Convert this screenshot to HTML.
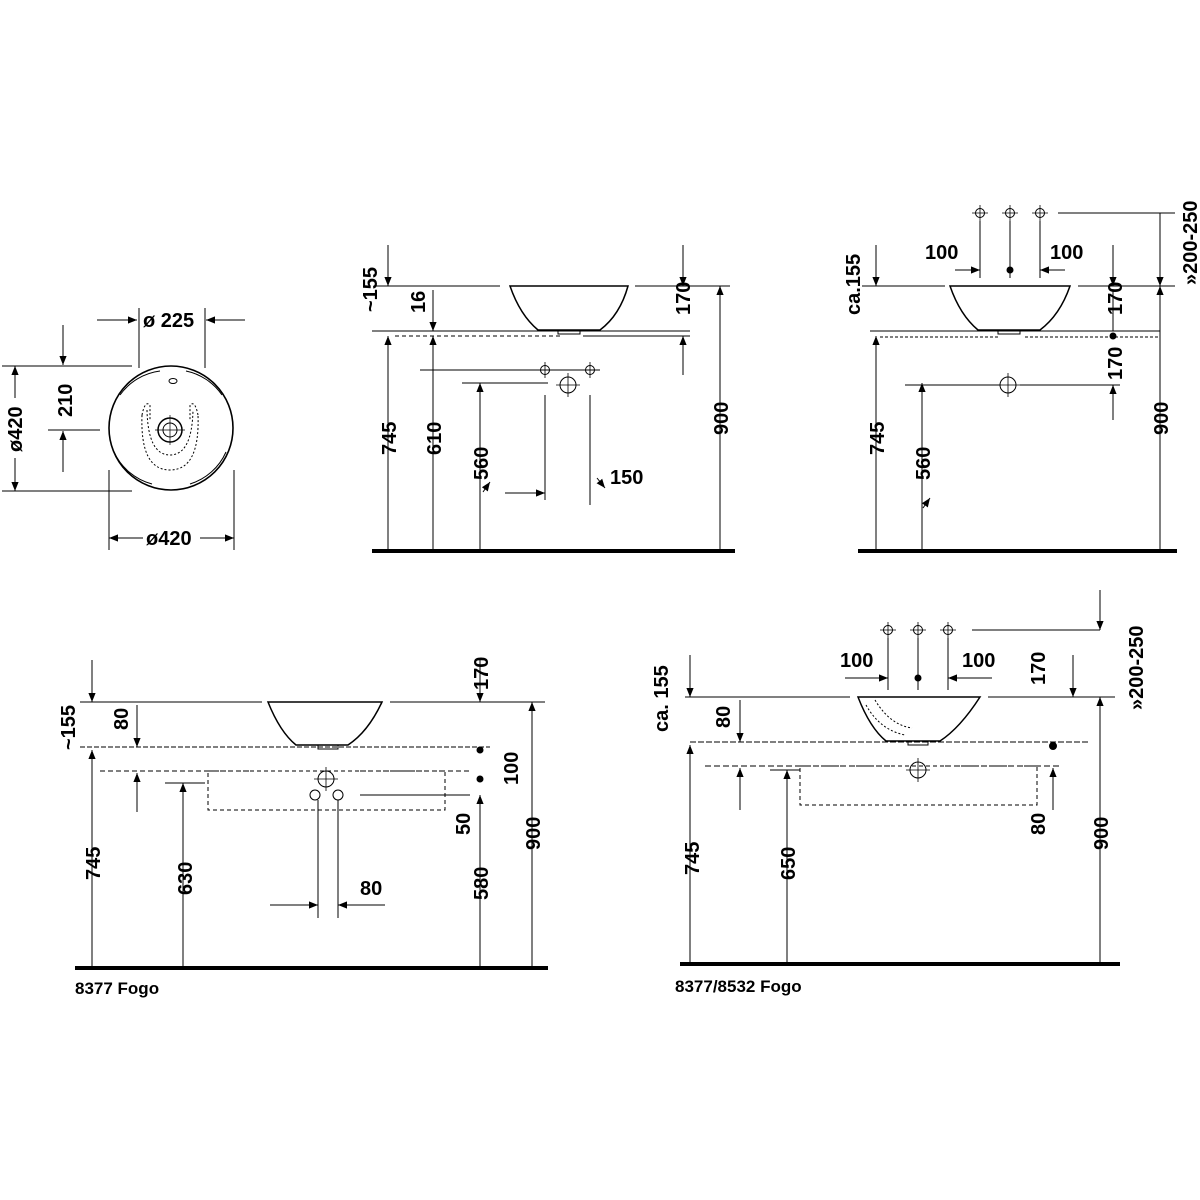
<!DOCTYPE html>
<html><head><meta charset="utf-8"><style>
html,body{margin:0;padding:0;background:#fff;width:1200px;height:1200px;overflow:hidden}
svg text{font-family:"Liberation Sans",Arial,sans-serif;font-weight:bold;font-size:20px;fill:#000}
</style></head><body>
<svg width="1200" height="1200" viewBox="0 0 1200 1200" xmlns="http://www.w3.org/2000/svg">
<defs>
<marker id="a" viewBox="0 0 10 10" refX="10" refY="5" markerWidth="9" markerHeight="9" orient="auto-start-reverse" markerUnits="userSpaceOnUse"><path d="M0,1 L10,5 L0,9 Z" fill="#000"/></marker>
</defs>
<g stroke="#000" stroke-width="1" fill="none">
<!-- Panel 1 -->
<circle cx="171" cy="428" r="62" stroke-width="1.6"/>
<path d="M120 395 A58 58 0 0 1 160 371 M186 371 A58 58 0 0 1 222 395 M226 452 A58 58 0 0 1 190 484 M152 484 A58 58 0 0 1 114 452"/>
<ellipse cx="173" cy="381" rx="4" ry="2.5"/>
<circle cx="170" cy="430" r="12" stroke-width="1.5"/><circle cx="170" cy="430" r="7"/>
<path d="M155 430 H185 M170 415 V445" stroke-width="0.7"/>
<path d="M142 415 Q140 470 170 470 Q200 470 198 415" stroke-dasharray="2 2"/>
<path d="M147 410 Q148 455 170 455 Q192 455 193 410" stroke-dasharray="2 2"/>
<path d="M142 415 Q145 400 150 405 L150 420 M198 415 Q195 400 190 405 L190 420" stroke-dasharray="2 2"/>
<line x1="97" y1="320" x2="137" y2="320" marker-end="url(#a)"/>
<line x1="245" y1="320" x2="206" y2="320" marker-end="url(#a)"/>
<line x1="139" y1="308" x2="139" y2="368"/><line x1="205" y1="308" x2="205" y2="368"/>
<line x1="63" y1="325" x2="63" y2="365" marker-end="url(#a)"/>
<line x1="63" y1="472" x2="63" y2="431" marker-end="url(#a)"/>
<line x1="2" y1="366" x2="132" y2="366"/><line x1="48" y1="430" x2="100" y2="430"/>
<line x1="15" y1="366" x2="15" y2="398" marker-start="url(#a)"/>
<line x1="15" y1="458" x2="15" y2="491" marker-end="url(#a)"/>
<line x1="2" y1="491" x2="132" y2="491"/>
<line x1="109" y1="538" x2="143" y2="538" marker-start="url(#a)"/>
<line x1="234" y1="538" x2="200" y2="538" marker-start="url(#a)"/>
<line x1="109" y1="470" x2="109" y2="550"/><line x1="234" y1="470" x2="234" y2="550"/>

<!-- Panel 2 -->
<line x1="372" y1="551" x2="735" y2="551" stroke-width="4"/>
<path d="M510 286 Q520 315 538 330 L600 330 Q620 315 628 286 Z" stroke-width="1.5"/>
<rect x="558" y="330" width="22" height="4"/>
<line x1="372" y1="331" x2="690" y2="331"/>
<line x1="395" y1="336" x2="560" y2="336" stroke-dasharray="4 3"/>
<line x1="583" y1="336" x2="690" y2="336"/>
<line x1="375" y1="286" x2="500" y2="286"/><line x1="635" y1="286" x2="730" y2="286"/>
<line x1="388" y1="245" x2="388" y2="286" marker-end="url(#a)"/>
<line x1="388" y1="551" x2="388" y2="336" marker-end="url(#a)"/>
<line x1="433" y1="290" x2="433" y2="331" marker-end="url(#a)"/>
<line x1="433" y1="551" x2="433" y2="336" marker-end="url(#a)"/>
<line x1="480" y1="551" x2="480" y2="383" marker-end="url(#a)"/>
<line x1="462" y1="383" x2="548" y2="383"/>
<line x1="420" y1="370" x2="600" y2="370"/>
<circle cx="545" cy="370" r="4.5"/><circle cx="590" cy="370" r="4.5"/><circle cx="568" cy="385" r="8"/>
<path d="M537 370H553M545 362V378M582 370H598M590 362V378M556 385H580M568 373V397" stroke-width="0.8"/>
<line x1="545" y1="395" x2="545" y2="500"/><line x1="590" y1="395" x2="590" y2="505"/>
<line x1="505" y1="493" x2="545" y2="493" marker-end="url(#a)"/>
<line x1="597" y1="478" x2="605" y2="488" marker-end="url(#a)"/>
<line x1="483" y1="492" x2="490" y2="482" marker-end="url(#a)"/>
<line x1="683" y1="245" x2="683" y2="286" marker-end="url(#a)"/>
<line x1="683" y1="375" x2="683" y2="336" marker-end="url(#a)"/>
<line x1="720" y1="551" x2="720" y2="286" marker-end="url(#a)"/>

<!-- Panel 3 -->
<line x1="858" y1="551" x2="1177" y2="551" stroke-width="4"/>
<path d="M950 286 Q960 315 978 330 L1040 330 Q1060 315 1070 286 Z" stroke-width="1.5"/>
<rect x="998" y="330" width="22" height="4"/>
<line x1="870" y1="331" x2="1160" y2="331"/>
<line x1="880" y1="337" x2="1000" y2="337" stroke-dasharray="3 2"/>
<line x1="1025" y1="337" x2="1160" y2="337" stroke-dasharray="3 2"/>
<line x1="862" y1="286" x2="945" y2="286"/><line x1="1078" y1="286" x2="1175" y2="286"/>
<circle cx="980" cy="213" r="4.5"/><circle cx="1010" cy="213" r="4.5"/><circle cx="1040" cy="213" r="4.5"/>
<path d="M972 213H988M980 205V221M1002 213H1018M1010 205V221M1032 213H1048M1040 205V221" stroke-width="0.8"/>
<line x1="980" y1="221" x2="980" y2="278"/><line x1="1040" y1="221" x2="1040" y2="278"/>
<line x1="1010" y1="221" x2="1010" y2="278"/>
<circle cx="1010" cy="270" r="3" fill="#000"/>
<line x1="955" y1="270" x2="980" y2="270" marker-end="url(#a)"/>
<line x1="1065" y1="270" x2="1040" y2="270" marker-end="url(#a)"/>
<line x1="1058" y1="213" x2="1175" y2="213"/>
<line x1="876" y1="245" x2="876" y2="286" marker-end="url(#a)"/>
<line x1="876" y1="551" x2="876" y2="336" marker-end="url(#a)"/>
<line x1="922" y1="551" x2="922" y2="383" marker-end="url(#a)"/>
<line x1="905" y1="385" x2="1000" y2="385"/><line x1="1020" y1="385" x2="1120" y2="385"/>
<circle cx="1008" cy="385" r="8"/><path d="M996 385H1020M1008 373V397" stroke-width="0.8"/>
<line x1="923" y1="508" x2="930" y2="498" marker-end="url(#a)"/>
<line x1="1113" y1="245" x2="1113" y2="286" marker-end="url(#a)"/>
<line x1="1113" y1="290" x2="1113" y2="331"/>
<circle cx="1113" cy="336" r="3" fill="#000"/>
<line x1="1113" y1="420" x2="1113" y2="385" marker-end="url(#a)"/>
<line x1="1160" y1="213" x2="1160" y2="286" marker-end="url(#a)"/>
<line x1="1160" y1="551" x2="1160" y2="286" marker-end="url(#a)"/>

<!-- Panel 4 -->
<line x1="75" y1="968" x2="548" y2="968" stroke-width="4"/>
<path d="M268 702 Q280 732 296 745 L348 745 Q368 732 382 702 Z" stroke-width="1.5"/>
<rect x="318" y="745" width="20" height="4"/>
<line x1="80" y1="747" x2="490" y2="747" stroke-dasharray="5 2"/>
<line x1="100" y1="771" x2="250" y2="771" stroke-dasharray="5 3"/>
<line x1="360" y1="771" x2="470" y2="771" stroke-dasharray="5 3"/>
<rect x="208" y="771" width="237" height="39" stroke-dasharray="4 3"/>
<circle cx="326" cy="779" r="8"/><circle cx="315" cy="795" r="5"/><circle cx="338" cy="795" r="5"/>
<path d="M314 779H338M326 767V791" stroke-width="0.8"/>
<line x1="360" y1="795" x2="470" y2="795"/>
<line x1="80" y1="702" x2="262" y2="702"/><line x1="390" y1="702" x2="545" y2="702"/>
<line x1="92" y1="660" x2="92" y2="702" marker-end="url(#a)"/>
<line x1="92" y1="968" x2="92" y2="750" marker-end="url(#a)"/>
<line x1="137" y1="705" x2="137" y2="747" marker-end="url(#a)"/>
<line x1="137" y1="812" x2="137" y2="773" marker-end="url(#a)"/>
<line x1="183" y1="968" x2="183" y2="783" marker-end="url(#a)"/>
<line x1="165" y1="783" x2="205" y2="783"/>
<line x1="318" y1="800" x2="318" y2="918"/><line x1="338" y1="800" x2="338" y2="918"/>
<line x1="270" y1="905" x2="318" y2="905" marker-end="url(#a)"/>
<line x1="385" y1="905" x2="338" y2="905" marker-end="url(#a)"/>
<line x1="480" y1="660" x2="480" y2="702" marker-end="url(#a)"/>
<circle cx="480" cy="750" r="3" fill="#000"/><circle cx="480" cy="779" r="3" fill="#000"/>
<line x1="480" y1="968" x2="480" y2="795" marker-end="url(#a)"/>
<line x1="532" y1="968" x2="532" y2="702" marker-end="url(#a)"/>

<!-- Panel 5 -->
<line x1="680" y1="964" x2="1120" y2="964" stroke-width="4"/>
<path d="M858 697 Q870 728 886 741 L940 741 Q960 728 980 697 Z" stroke-width="1.5"/>
<path d="M866 705 Q880 730 905 735 M875 700 Q890 725 912 728" stroke-dasharray="2 2"/>
<rect x="908" y="741" width="20" height="4"/>
<line x1="690" y1="742" x2="1090" y2="742" stroke-dasharray="6 2"/>
<line x1="705" y1="766" x2="890" y2="766" stroke-dasharray="6 3"/>
<line x1="945" y1="766" x2="1060" y2="766" stroke-dasharray="6 3"/>
<rect x="800" y="766" width="237" height="39" stroke-dasharray="4 3"/>
<circle cx="918" cy="770" r="8"/><path d="M906 770H930M918 758V782" stroke-width="0.8"/>
<circle cx="888" cy="630" r="4.5"/><circle cx="918" cy="630" r="4.5"/><circle cx="948" cy="630" r="4.5"/>
<path d="M880 630H896M888 622V638M910 630H926M918 622V638M940 630H956M948 622V638" stroke-width="0.8"/>
<line x1="888" y1="638" x2="888" y2="690"/><line x1="948" y1="638" x2="948" y2="690"/><line x1="918" y1="638" x2="918" y2="690"/>
<circle cx="918" cy="678" r="3" fill="#000"/>
<line x1="845" y1="678" x2="888" y2="678" marker-end="url(#a)"/>
<line x1="992" y1="678" x2="948" y2="678" marker-end="url(#a)"/>
<line x1="972" y1="630" x2="1100" y2="630"/>
<line x1="685" y1="697" x2="850" y2="697"/><line x1="988" y1="697" x2="1115" y2="697"/>
<line x1="690" y1="655" x2="690" y2="697" marker-end="url(#a)"/>
<line x1="690" y1="964" x2="690" y2="745" marker-end="url(#a)"/>
<line x1="740" y1="700" x2="740" y2="742" marker-end="url(#a)"/>
<line x1="740" y1="810" x2="740" y2="768" marker-end="url(#a)"/>
<line x1="787" y1="964" x2="787" y2="770" marker-end="url(#a)"/>
<line x1="770" y1="770" x2="800" y2="770"/>
<circle cx="1053" cy="746" r="3.5" fill="#000"/>
<line x1="1053" y1="810" x2="1053" y2="768" marker-end="url(#a)"/>
<line x1="1073" y1="655" x2="1073" y2="697" marker-end="url(#a)"/>
<line x1="1100" y1="590" x2="1100" y2="630" marker-end="url(#a)"/>
<line x1="1100" y1="964" x2="1100" y2="697" marker-end="url(#a)"/>
</g>

<!-- Texts -->
<text x="143" y="327">ø 225</text>
<text x="146" y="545">ø420</text>
<text transform="translate(72,417) rotate(-90)">210</text>
<text transform="translate(22,452) rotate(-90)">ø420</text>

<text transform="translate(377,312) rotate(-90)">~155</text>
<text transform="translate(425,313) rotate(-90)">16</text>
<text transform="translate(396,455) rotate(-90)">745</text>
<text transform="translate(441,455) rotate(-90)">610</text>
<text transform="translate(488,480) rotate(-90)">560</text>
<text x="610" y="484">150</text>
<text transform="translate(690,315) rotate(-90)">170</text>
<text transform="translate(728,435) rotate(-90)">900</text>

<text x="925" y="259">100</text>
<text x="1050" y="259">100</text>
<text transform="translate(860,315) rotate(-90)">ca.155</text>
<text transform="translate(884,455) rotate(-90)">745</text>
<text transform="translate(930,480) rotate(-90)">560</text>
<text transform="translate(1122,315) rotate(-90)">170</text>
<text transform="translate(1122,380) rotate(-90)">170</text>
<text transform="translate(1168,435) rotate(-90)">900</text>
<text transform="translate(1197,285) rotate(-90)">»200-250</text>

<text transform="translate(75,750) rotate(-90)">~155</text>
<text transform="translate(128,730) rotate(-90)">80</text>
<text transform="translate(100,880) rotate(-90)">745</text>
<text transform="translate(192,895) rotate(-90)">630</text>
<text x="360" y="895">80</text>
<text transform="translate(488,690) rotate(-90)">170</text>
<text transform="translate(518,785) rotate(-90)">100</text>
<text transform="translate(470,835) rotate(-90)">50</text>
<text transform="translate(488,900) rotate(-90)">580</text>
<text transform="translate(540,850) rotate(-90)">900</text>
<text x="75" y="994" style="font-size:17px">8377 Fogo</text>

<text transform="translate(668,732) rotate(-90)">ca. 155</text>
<text transform="translate(730,728) rotate(-90)">80</text>
<text transform="translate(699,875) rotate(-90)">745</text>
<text transform="translate(795,880) rotate(-90)">650</text>
<text x="840" y="667">100</text>
<text x="962" y="667">100</text>
<text transform="translate(1045,685) rotate(-90)">170</text>
<text transform="translate(1045,835) rotate(-90)">80</text>
<text transform="translate(1108,850) rotate(-90)">900</text>
<text transform="translate(1143,710) rotate(-90)">»200-250</text>
<text x="675" y="992" style="font-size:17px">8377/8532 Fogo</text>
</svg>
</body></html>
